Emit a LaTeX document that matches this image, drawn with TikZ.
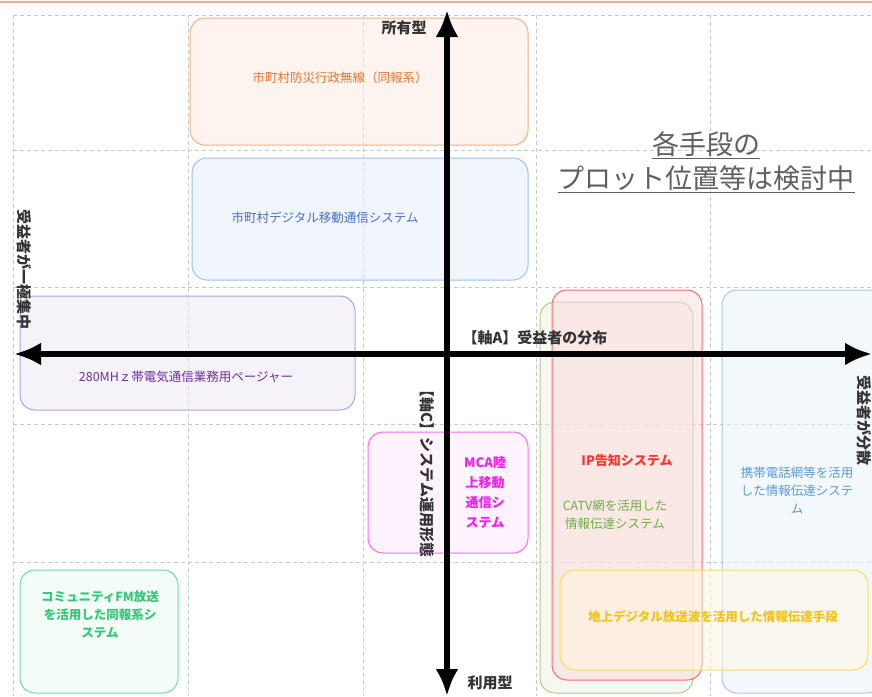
\documentclass[tikz,border=0pt]{standalone}
\usepackage{fontspec}
\setmainfont{Noto Sans CJK JP}
\usepackage{tikz}
\usetikzlibrary{arrows.meta}
\definecolor{gridC}{HTML}{C8C8C8}
\definecolor{topC}{HTML}{F4B183}
\definecolor{axisT}{HTML}{333333}
\definecolor{bousaiC}{HTML}{F4B183}
\definecolor{bousaiT}{HTML}{E8742A}
\definecolor{digiC}{HTML}{9DC3E6}
\definecolor{digiT}{HTML}{4472C4}
\definecolor{pagerC}{HTML}{B4A0E0}
\definecolor{pagerT}{HTML}{7030A0}
\definecolor{mcaC}{HTML}{FF66FF}
\definecolor{mcaT}{HTML}{F020F0}
\definecolor{ipC}{HTML}{FF6B6B}
\definecolor{ipT}{HTML}{FF3333}
\definecolor{catvC}{HTML}{A9D18E}
\definecolor{catvT}{HTML}{70AD47}
\definecolor{mobC}{HTML}{A8CBEC}
\definecolor{mobT}{HTML}{5B9BD5}
\definecolor{dtvC}{HTML}{FFD966}
\definecolor{dtvT}{HTML}{F2C318}
\definecolor{fmC}{HTML}{70DCA2}
\definecolor{fmT}{HTML}{33C878}
\definecolor{noteT}{HTML}{5F5F5F}

\tikzstyle{plan} = [draw, rounded corners=15pt, line width=1pt, fill opacity=0.5]
\tikzstyle{axis} = [line width=6pt, {Latex[length=27pt,width=23pt]}-{Latex[length=27pt,width=23pt]}]
\tikzstyle{axlabel} = [text=axisT, font=\fontsize{15}{17}\selectfont\bfseries, inner sep=0pt]
\tikzstyle{txt} = [font=\fontsize{12.5}{18}\selectfont, align=center, inner sep=0pt]

\begin{document}
\begin{tikzpicture}[x=1pt,y=-1pt]
\useasboundingbox (0,0) rectangle (872,696);
\fill[white] (0,0) rectangle (872,696);
\draw[topC, line width=2pt] (0,1.5) -- (872,1.5);

\begin{scope}[gridC, dash pattern=on 4pt off 3pt, line width=0.8pt]
\foreach \x in {13,188,363,536,710}
  \draw (\x,15) -- (\x,696);
\foreach \y in {15,150,287,424,562}
  \draw (13,\y) -- (872,\y);
\end{scope}

\node[plan, draw=bousaiC, fill=bousaiC!25, minimum width=338pt, minimum height=127pt] (bousai) at (359,81.5) {};
\node[plan, draw=digiC, fill=digiC!30, minimum width=336pt, minimum height=122pt] (digi) at (360,219) {};
\node[plan, draw=pagerC, fill=pagerC!25, minimum width=335pt, minimum height=114pt] (pager) at (187.5,353) {};
\node[plan, draw=mcaC, fill=mcaC!15, minimum width=160pt, minimum height=121pt] (mca) at (448,492.5) {};
\node[plan, draw=mobC, fill=mobC!25, minimum width=160pt, minimum height=403pt] (mob) at (802,491.5) {};
\node[plan, draw=catvC, fill=catvC!25, minimum width=153pt, minimum height=391pt] (catv) at (616.5,497.5) {};
\node[plan, draw=ipC, fill=ipC!25, minimum width=150pt, minimum height=390pt] (ip) at (627,485) {};
\node[plan, draw=dtvC, fill=dtvC!20, minimum width=308pt, minimum height=100pt] (dtv) at (714,620) {};
\node[plan, draw=fmC, fill=fmC!15, minimum width=158pt, minimum height=123pt] (fm) at (99,631.5) {};

\coordinate (top) at (447,10);
\coordinate (bottom) at (447,696);
\coordinate (left) at (14,354);
\coordinate (right) at (872,354);
\draw[axis] (bottom) -- (top);
\draw[axis] (left) -- (right);

\node[axlabel] (own) at (404,28) {所有型};
\node[axlabel] (use) at (490,683) {利用型};
\node[axlabel] (axA) at (535,338) {【軸A】受益者の分布};
\node[axlabel, rotate=-90] (axC) at (427,470) {【軸C】システム運用形態};
\node[axlabel, rotate=-90] (conc) at (24,269) {受益者が一極集中};
\node[axlabel, rotate=-90] (disp) at (864,420) {受益者が分散};

\node[txt, text=bousaiT] (bousaitxt) at (340,78) {市町村防災行政無線（同報系）};
\node[txt, text=digiT] (digitxt) at (325,218) {市町村デジタル移動通信システム};
\node[txt, text=pagerT] (pagertxt) at (186,377) {280MHｚ帯電気通信業務用ページャー};
\node[txt, text=mcaT, font=\fontsize{13}{20}\selectfont\bfseries] (mcatxt) at (485,492) {MCA陸\\上移動\\通信シ\\ステム};
\node[txt, text=ipT, font=\fontsize{13}{18}\selectfont\bfseries] (iptxt) at (627,461) {IP告知システム};
\node[txt, text=catvT] (catvtxt) at (615,515) {CATV網を活用した\\情報伝達システム};
\node[txt, text=mobT] (mobtxt) at (797,490) {携帯電話網等を活用\\した情報伝達システ\\ム};
\node[txt, text=dtvT, font=\fontsize{12.5}{18}\selectfont\bfseries] (dtvtxt) at (713,617) {地上デジタル放送波を活用した情報伝達手段};
\node[txt, text=fmT, font=\fontsize{12.5}{18}\selectfont\bfseries] (fmtxt) at (100,615) {コミュニティFM放送\\を活用した同報系シ\\ステム};

\node[txt, text=noteT, font=\fontsize{27}{34}\selectfont] (note) at (706,162) {\underline{各手段の}\\\underline{プロット位置等は検討中}};
\end{tikzpicture}
\end{document}
